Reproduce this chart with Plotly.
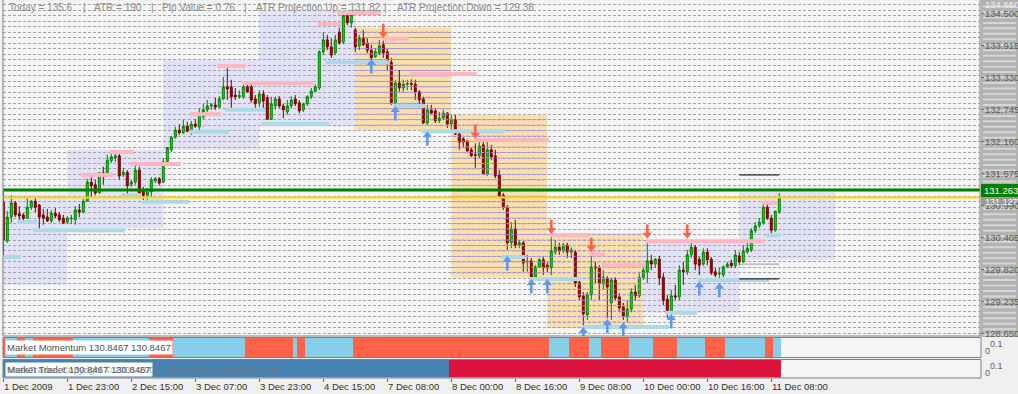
import plotly.graph_objects as go

W, H = 1018, 394

# ---------------- data (H1 candles) ----------------
opens = [131.05,130.33,130.77,131.03,130.83,130.81,130.75,130.95,131.06,130.99,
         130.81,130.77,130.70,130.84,130.81,130.75,130.68,130.74,130.72,130.90,
         130.86,131.06,131.41,131.36,131.21,131.58,131.58,131.80,131.85,131.89,
         131.54,131.59,131.37,131.41,131.63,131.25,131.17,131.23,131.43,131.47,
         131.41,131.78,132.00,132.23,132.36,132.31,132.43,132.32,132.47,132.42,
         132.60,132.73,132.80,132.82,132.78,132.93,133.15,133.15,133.00,132.97,
         132.97,133.15,133.15,132.93,132.86,133.02,132.95,132.56,132.80,132.93,
         132.80,132.69,132.80,132.93,132.86,132.73,132.84,132.97,133.07,133.13,
         133.79,134.01,133.88,133.77,134.15,133.97,134.45,134.32,134.19,133.90,
         134.04,133.95,133.82,133.70,133.77,133.92,133.79,133.60,132.86,133.22,
         133.13,133.20,133.21,133.20,133.06,132.93,132.49,132.73,132.71,132.53,
         132.58,132.67,132.47,132.55,132.29,132.20,132.16,132.00,131.91,131.89,
         132.09,131.56,132.00,131.89,131.54,131.17,130.95,130.30,130.55,130.26,
         130.30,129.95,129.97,129.67,129.86,129.99,129.89,129.84,130.13,130.22,
         130.15,130.26,130.13,130.13,129.58,129.33,128.98,129.35,129.86,129.84,
         129.55,129.64,129.20,129.62,129.31,129.13,128.95,129.09,129.40,129.33,
         129.67,129.77,129.97,129.91,130.00,129.67,129.27,129.02,129.33,129.31,
         129.80,129.77,130.08,130.22,130.00,129.91,130.13,130.00,129.77,129.73,
         129.71,129.86,129.93,129.88,130.06,129.95,130.13,130.17,130.52,130.61,
         130.66,130.95,130.75,130.53,130.86]
highs = [131.26,130.88,131.17,131.06,130.97,130.84,131.12,131.08,131.12,131.01,
         130.92,130.92,130.90,130.94,130.86,130.81,130.79,130.81,130.97,131.01,
         131.10,131.47,131.50,131.45,131.59,131.69,131.91,131.94,132.00,131.96,
         131.67,131.63,131.45,131.78,131.69,131.32,131.30,131.50,131.50,131.50,
         131.85,132.05,132.25,132.42,132.47,132.55,132.51,132.53,132.56,132.76,
         132.84,132.91,132.86,132.95,132.98,133.33,133.55,133.28,133.13,133.09,
         133.20,133.22,133.20,133.00,133.09,133.09,133.00,132.97,132.97,132.98,
         132.84,132.91,132.98,133.00,132.91,132.86,133.00,133.13,133.20,133.82,
         134.15,134.10,134.04,134.10,134.23,134.52,134.50,134.52,134.23,134.10,
         134.19,134.04,133.92,133.86,134.01,134.01,133.86,133.68,133.28,133.46,
         133.28,133.28,133.29,133.28,133.09,132.97,132.82,132.82,132.76,132.69,
         132.73,132.69,132.64,132.64,132.32,132.23,132.18,132.04,132.12,132.18,
         132.14,132.18,132.09,132.00,131.63,131.21,130.99,130.68,130.72,130.35,
         130.33,130.08,130.02,129.89,130.02,130.06,129.95,130.40,130.35,130.30,
         130.30,130.30,130.22,130.17,129.62,129.40,129.40,130.08,129.95,129.89,
         129.80,129.69,129.66,129.67,129.38,129.20,129.25,129.47,129.53,129.77,
         129.89,130.31,130.08,130.02,130.06,129.75,129.35,129.44,129.53,129.89,
         129.95,130.17,130.31,130.26,130.04,130.20,130.20,130.04,129.84,129.84,
         129.89,129.95,129.99,130.17,130.13,130.26,130.31,130.57,130.68,130.75,
         131.01,131.05,130.81,130.88,131.21]
lows = [130.02,130.30,130.66,130.77,130.72,130.66,130.75,130.90,130.86,130.53,
        130.63,130.68,130.66,130.75,130.68,130.64,130.64,130.64,130.63,130.77,
        130.84,131.05,131.14,131.17,131.21,131.36,131.58,131.76,131.78,131.45,
        131.50,131.17,131.32,131.36,131.14,131.03,131.08,131.12,131.39,131.36,
        131.39,131.76,131.96,132.20,132.27,132.29,132.32,132.27,132.40,132.36,
        132.56,132.69,132.73,132.73,132.76,132.91,132.91,132.73,132.91,132.93,
        132.93,133.04,132.86,132.73,132.78,132.71,132.55,132.55,132.73,132.76,
        132.58,132.64,132.76,132.80,132.67,132.69,132.80,132.93,133.06,133.09,
        133.73,133.82,133.68,133.73,133.92,133.93,134.28,134.23,133.79,133.82,
        133.90,133.77,133.64,133.68,133.73,133.68,133.46,132.82,132.76,133.06,
        133.06,133.09,133.09,132.91,132.84,132.47,132.45,132.64,132.49,132.49,
        132.55,132.40,132.36,132.27,132.00,132.04,131.96,131.87,131.67,131.85,
        131.54,131.52,131.81,131.48,131.12,130.90,130.17,130.20,130.20,130.20,
        129.77,129.77,129.62,129.66,129.84,129.71,129.77,129.71,130.08,130.08,
        130.11,130.02,130.02,129.49,129.25,128.76,128.89,129.25,129.56,129.25,
        129.44,128.92,128.89,129.25,129.03,128.89,128.85,129.03,129.25,129.29,
        129.62,129.56,129.80,129.84,129.53,129.16,128.92,128.98,129.25,129.25,
        129.53,129.71,130.02,129.80,129.71,129.88,129.89,129.71,129.67,129.62,
        129.67,129.84,129.84,129.84,129.89,129.93,130.10,130.13,130.48,130.57,
        130.63,130.72,130.44,130.50,130.83]
closes = [130.35,130.77,131.03,130.81,130.79,130.75,130.95,131.06,130.95,130.77,
          130.75,130.70,130.84,130.79,130.72,130.66,130.75,130.75,130.90,130.86,
          131.06,131.41,131.34,131.21,131.58,131.56,131.81,131.87,131.89,131.52,
          131.59,131.34,131.41,131.63,131.21,131.17,131.23,131.45,131.47,131.39,
          131.78,132.04,132.23,132.36,132.31,132.43,132.34,132.47,132.43,132.64,
          132.73,132.80,132.82,132.78,132.93,133.15,133.11,132.97,132.97,132.99,
          133.15,133.06,132.91,132.84,133.02,132.89,132.56,132.84,132.93,132.80,
          132.73,132.80,132.91,132.84,132.71,132.84,132.97,133.07,133.15,133.79,
          134.01,133.88,133.73,134.01,133.95,134.46,134.32,134.48,133.88,134.04,
          133.92,133.82,133.68,133.79,133.90,133.77,133.60,132.86,133.22,133.13,
          133.20,133.21,133.20,133.06,132.91,132.49,132.73,132.67,132.53,132.58,
          132.67,132.47,132.56,132.29,132.14,132.14,131.98,131.89,131.90,132.07,
          131.56,132.00,131.87,131.52,131.15,130.95,130.30,130.55,130.26,130.30,
          129.93,129.96,129.67,129.86,129.99,129.84,129.84,130.15,130.22,130.15,
          130.26,130.13,130.17,129.56,129.31,129.00,129.35,129.86,129.84,129.56,
          129.67,129.49,129.62,129.29,129.11,128.95,129.09,129.40,129.33,129.67,
          129.80,129.97,129.91,130.00,129.66,129.25,129.02,129.33,129.31,129.80,
          129.77,130.08,130.22,129.91,129.89,130.13,129.99,129.75,129.71,129.74,
          129.86,129.91,129.88,130.08,129.95,130.15,130.20,130.52,130.61,130.68,
          130.95,130.75,130.53,130.88,131.12]

tick_bars = [0, 16, 32, 48, 64, 80, 96, 112, 128, 144, 160, 176, 192]
tick_labels = ["1 Dec 2009", "1 Dec 23:00", "2 Dec 15:00", "3 Dec 07:00", "3 Dec 23:00",
               "4 Dec 15:00", "7 Dec 08:00", "8 Dec 00:00", "8 Dec 16:00", "9 Dec 08:00",
               "10 Dec 00:00", "10 Dec 16:00", "11 Dec 08:00"]
price_ticks = [134.500, 133.915, 133.330, 132.745, 132.160, 131.575, 130.990,
               130.405, 129.820, 129.235, 128.650]

# daily range boxes: start bar, end bar, top, bottom, kind (1 = up day, -1 = down day)
box_start = [-1, 16, 40, 64, 88, 112, 136, 160, 184]
box_end = [16, 40, 64, 88, 112, 136, 160, 184, 208]
box_top = [131.18, 132.00, 133.64, 134.55, 134.23, 132.64, 130.48, 130.35, 131.23]
box_bottom = [129.53, 130.57, 132.00, 132.42, 132.36, 129.66, 128.74, 129.02, 129.99]
box_kind = [1, 1, 1, 1, -1, -1, -1, 1, 1]

# resistance (pink) and support (light blue) segments
res_start = [20, 27, 32, 47, 54, 60, 79, 84, 95, 102, 118, 137, 147, 150, 161, 190]
res_end = [27, 32, 44, 54, 60, 77, 84, 94, 101, 118, 136, 146, 150, 160, 190, 193]
res_price = [131.54, 131.96, 131.74, 132.65, 133.53, 133.22, 134.30, 134.50, 134.03,
             133.39, 132.18, 130.44, 130.09, 129.89, 130.33, 131.03]
sup_start = [0, 4, 8, 30, 35, 47, 56, 65, 81, 98, 105, 125, 132, 145, 166, 174, 191]
sup_end = [4, 8, 30, 34, 46, 56, 65, 81, 96, 105, 125, 130, 144, 166, 173, 191, 194]
sup_price = [130.04, 130.68, 130.53, 131.17, 131.05, 132.33, 132.73, 132.47, 133.60,
             132.80, 132.34, 130.04, 129.64, 128.76, 129.02, 129.62, 130.44]

# signal arrows (tip positions)
down_bars = [95, 118, 137, 147, 161, 171]
down_tips = [134.06, 132.22, 130.48, 130.15, 130.39, 130.39]
up_bars = [92, 98, 106, 126, 132, 136, 145, 151, 155, 167, 174, 179]
up_tips = [133.64, 132.78, 132.32, 130.04, 129.62, 129.62, 128.74, 128.89, 128.83,
           128.98, 129.58, 129.55]

# horizontal levels
green_level = 131.263
yellow_level = 131.127
proj_prices = [131.54, 129.91, 129.64]
proj_colors = ["#000000", "#9a9a9a", "#000000"]
proj_start, proj_end = 184, 194

# indicator panels: (state, bar count) runs, 1 = up, -1 = down
momentum_runs = [(-1, 1), (1, 3), (-1, 2), (1, 2), (-1, 10), (1, 19), (-1, 6), (1, 18),
                 (-1, 12), (1, 1), (-1, 2), (1, 12), (-1, 49), (1, 5), (-1, 5), (1, 3),
                 (-1, 7), (1, 6), (-1, 6), (1, 7), (-1, 5), (1, 10), (-1, 2), (1, 2)]
trend_runs = [(1, 112), (-1, 83)]

info_texts = ["Today = 135.6", "|", "ATR = 190", "|", "Pip Value = 0.76", "|",
              "ATR Projection Up = 131.82", "|", "ATR Projection Down = 129.38"]
info_x = [7, 81, 92, 149, 160, 242, 254, 382, 395]

# ---------------- layout helpers ----------------
def px(x):
    return x / W


def py(y):
    return 1 - y / H


n = len(closes)
bars = list(range(n))
X_RANGE = [-0.075, 244.175]
Y_RANGE = [128.596, 134.720]
XDOM = [px(3), px(980)]
YDOM_PX = (1, 336)
PRICE_PER_PX = (Y_RANGE[1] - Y_RANGE[0]) / (YDOM_PX[1] - YDOM_PX[0])
FONT = "Tahoma, 'Liberation Sans', Arial, sans-serif"

fig = go.Figure()

# grid segments recoloured inside the down-day boxes
grid_levels = [round(128.65 + 0.1 * k, 2) for k in range(61)]
gx, gy = [], []
for s, e, t, b, k in zip(box_start, box_end, box_top, box_bottom, box_kind):
    if k == -1:
        for lv in grid_levels:
            if b <= lv <= t:
                gx += [s, e, None]
                gy += [lv, lv, None]
fig.add_trace(go.Scatter(x=gx, y=gy, mode="lines", hoverinfo="skip",
                         line=dict(color="#b08cf2", width=1, dash="3px,2px"),
                         xaxis="x", yaxis="y", showlegend=False))


def segs(starts, ends, prices):
    xs, ys = [], []
    for s, e, p in zip(starts, ends, prices):
        xs += [s - 0.4, e + 0.4, None]
        ys += [p, p, None]
    return xs, ys


rx, ry = segs(res_start, res_end, res_price)
sx, sy = segs(sup_start, sup_end, sup_price)
fig.add_trace(go.Scatter(x=rx, y=ry, mode="lines", line=dict(color="#ffb6c1", width=4),
                         hoverinfo="skip", showlegend=False, xaxis="x", yaxis="y"))
fig.add_trace(go.Scatter(x=sx, y=sy, mode="lines", line=dict(color="#add8e6", width=4),
                         hoverinfo="skip", showlegend=False, xaxis="x", yaxis="y"))

fig.add_trace(go.Candlestick(
    x=bars, open=opens, high=highs, low=lows, close=closes,
    increasing=dict(line=dict(color="#008000", width=1), fillcolor="#00ee00"),
    decreasing=dict(line=dict(color="#7a0000", width=1), fillcolor="#b00000"),
    whiskerwidth=0, showlegend=False, xaxis="x", yaxis="y"))

# arrows: a triangular head plus a short shaft, offset from each tip by a few pixels
def arrow_traces(bx, tips, direction, color):
    head_y = [t - direction * 3.0 * PRICE_PER_PX for t in tips]
    shaft_y = [t - direction * 8.5 * PRICE_PER_PX for t in tips]
    sym = "triangle-up" if direction == 1 else "triangle-down"
    fig.add_trace(go.Scatter(x=bx, y=shaft_y, mode="markers", hoverinfo="skip", showlegend=False,
                             marker=dict(symbol="line-ns", size=7, line=dict(color=color, width=2.6)),
                             xaxis="x", yaxis="y"))
    fig.add_trace(go.Scatter(x=bx, y=head_y, mode="markers", hoverinfo="skip", showlegend=False,
                             marker=dict(symbol=sym, size=8, color=color, line=dict(width=0)),
                             xaxis="x", yaxis="y"))


arrow_traces(up_bars, up_tips, 1, "#6495ed")
arrow_traces(down_bars, down_tips, -1, "#ff6347")


def expand(runs, up_col, dn_col):
    cols = []
    for state, cnt in runs:
        cols += [up_col if state == 1 else dn_col] * cnt
    return cols


mom_cols = expand(momentum_runs, "#87ceeb", "#ff6347")
trd_cols = expand(trend_runs, "#4682b4", "#dc143c")
fig.add_trace(go.Bar(x=bars, y=[1] * n, width=1, marker=dict(color=mom_cols, line=dict(width=0)),
                     hoverinfo="skip", showlegend=False, xaxis="x2", yaxis="y2"))
fig.add_trace(go.Bar(x=bars, y=[1] * n, width=1, marker=dict(color=trd_cols, line=dict(width=0)),
                     hoverinfo="skip", showlegend=False, xaxis="x3", yaxis="y3"))

shapes = []
# right price-scale background
shapes.append(dict(type="rect", xref="paper", yref="paper", x0=px(981), x1=1, y0=py(337), y1=1,
                   fillcolor="#b2b2b2", line=dict(width=0), layer="below"))
for lv in grid_levels:
    shapes.append(dict(type="line", xref="paper", yref="y", x0=px(983), x1=px(1016),
                       y0=lv - 0.03, y1=lv - 0.03, line=dict(color="#d6d6d6", width=2),
                       layer="below"))
# daily boxes
for s, e, t, b, k in zip(box_start, box_end, box_top, box_bottom, box_kind):
    shapes.append(dict(type="rect", xref="x", yref="y", x0=max(s, -0.075), x1=e, y0=b, y1=t,
                       fillcolor="#e2e2f6" if k == 1 else "#f7dfae",
                       line=dict(width=0), layer="below"))
# levels
shapes.append(dict(type="line", xref="paper", yref="y", x0=XDOM[0], x1=XDOM[1],
                   y0=green_level, y1=green_level, line=dict(color="#008000", width=3)))
shapes.append(dict(type="line", xref="paper", yref="y", x0=XDOM[0], x1=XDOM[1],
                   y0=yellow_level, y1=yellow_level, line=dict(color="#ffd700", width=2)))
for p, c in zip(proj_prices, proj_colors):
    shapes.append(dict(type="line", xref="x", yref="y", x0=proj_start, x1=proj_end,
                       y0=p, y1=p, line=dict(color=c, width=1)))
# borders
shapes.append(dict(type="line", xref="paper", yref="paper", x0=px(3), x1=px(3), y0=py(336), y1=1,
                   line=dict(color="#808080", width=1)))
shapes.append(dict(type="line", xref="paper", yref="paper", x0=px(980), x1=px(980), y0=py(336), y1=1,
                   line=dict(color="#808080", width=1)))
shapes.append(dict(type="line", xref="paper", yref="paper", x0=px(3), x1=px(980), y0=py(336), y1=py(336),
                   line=dict(color="#808080", width=1)))
for top, bot in [(337.5, 357.5), (359.5, 378)]:
    shapes.append(dict(type="rect", xref="paper", yref="paper", x0=px(3), x1=px(981),
                       y0=py(bot), y1=py(top), line=dict(color="#808080", width=1)))
# green / gray labels on price scale
shapes.append(dict(type="rect", xref="paper", yref="paper", x0=px(981), x1=1, y0=py(205), y1=py(197),
                   fillcolor="#9a9a9a", line=dict(width=0)))
shapes.append(dict(type="rect", xref="paper", yref="paper", x0=px(981), x1=1, y0=py(197), y1=py(184),
                   fillcolor="#008000", line=dict(width=0)))

ann = []
for t, x in zip(info_texts, info_x):
    ann.append(dict(text=t, x=px(x), y=py(8), xref="paper", yref="paper", xanchor="left",
                    yanchor="middle", showarrow=False, font=dict(family=FONT, size=10, color="#8a8a8a")))
for b, lab in zip(tick_bars, tick_labels):
    ann.append(dict(text=lab, x=b, y=py(386), xref="x", yref="paper", xanchor="left",
                    yanchor="middle", showarrow=False, xshift=-1,
                    font=dict(family=FONT, size=9.5, color="#303030")))
for p in price_ticks:
    ann.append(dict(text=f"{p:.3f}", x=px(983), y=p, xref="paper", yref="y", xanchor="left",
                    yanchor="middle", showarrow=False,
                    font=dict(family=FONT, size=9.5, color="#5a5a5a")))
ann.append(dict(text="134.650", x=px(983), y=134.65, xref="paper", yref="y", xanchor="left",
                yanchor="middle", showarrow=False, font=dict(family=FONT, size=9.5, color="#f0f0f0")))
ann.append(dict(text=f"{yellow_level:.3f}", x=px(983), y=py(202), xref="paper", yref="paper",
                xanchor="left", yanchor="middle", showarrow=False,
                font=dict(family=FONT, size=9, color="#ffffff")))
ann.append(dict(text=f"{green_level:.3f}", x=px(983), y=py(190.5), xref="paper", yref="paper",
                xanchor="left", yanchor="middle", showarrow=False, bgcolor="#008000", borderpad=0,
                font=dict(family=FONT, size=9.5, color="#ffffff")))
for yy in (347, 368.5):
    ann.append(dict(text="0.1", x=px(988), y=py(yy - 3), xref="paper", yref="paper", xanchor="left",
                    yanchor="middle", showarrow=False, font=dict(family=FONT, size=9, color="#606060")))
    ann.append(dict(text="0", x=px(983), y=py(yy + 4), xref="paper", yref="paper", xanchor="left",
                    yanchor="middle", showarrow=False, font=dict(family=FONT, size=9, color="#606060")))
ann.append(dict(text="Market Momentum 130.8467 130.8467", x=px(5), y=py(347.5), xref="paper",
                yref="paper", xanchor="left", yanchor="middle", showarrow=False, bgcolor="#ffffff",
                borderpad=1, font=dict(family=FONT, size=9.5, color="#505050")))
ann.append(dict(text="Market Trader 130.8467 130.8467", x=px(5), y=py(369), xref="paper",
                yref="paper", xanchor="left", yanchor="middle", showarrow=False, bgcolor="#ffffff",
                borderpad=1, font=dict(family=FONT, size=9.5, color="#505050")))
ann.append(dict(text="MetaTrader, Copyright © 2001-2009 MetaQuotes Software Corp.", x=px(6), y=py(369),
                xref="paper", yref="paper", xanchor="left", yanchor="middle", showarrow=False,
                font=dict(family=FONT, size=9.5, color="rgba(120,120,120,0.75)")))

fig.update_layout(
    width=W, height=H, autosize=False, margin=dict(l=0, r=0, t=0, b=0),
    paper_bgcolor="#f0f0f0", plot_bgcolor="#f5f5f5", showlegend=False, bargap=0,
    shapes=shapes, annotations=ann, hovermode=False,
    xaxis=dict(domain=XDOM, range=X_RANGE, anchor="y", showgrid=False, zeroline=False,
               showticklabels=False, ticks="", rangeslider=dict(visible=False), fixedrange=True),
    yaxis=dict(domain=[py(YDOM_PX[1]), py(YDOM_PX[0])], range=Y_RANGE, anchor="x", side="right",
               tickvals=price_ticks, ticks="outside", ticklen=3, tickcolor="#707070",
               showticklabels=False, showgrid=False, zeroline=False, fixedrange=True,
               minor=dict(tick0=128.65, dtick=0.1, showgrid=True, gridcolor="#a4a4a4",
                          griddash="3px,2px", gridwidth=1, ticks="")),
    xaxis2=dict(domain=XDOM, range=X_RANGE, anchor="y2", showgrid=False, zeroline=False,
                showticklabels=False, ticks="", fixedrange=True),
    yaxis2=dict(domain=[py(357), py(338)], range=[0, 1], anchor="x2", showgrid=False,
                zeroline=False, showticklabels=False, ticks="", fixedrange=True),
    xaxis3=dict(domain=XDOM, range=X_RANGE, anchor="y3", showgrid=False, zeroline=False,
                showticklabels=False, tickvals=tick_bars, ticks="outside", ticklen=3,
                tickcolor="#606060", fixedrange=True),
    yaxis3=dict(domain=[py(377.5), py(360)], range=[0, 1], anchor="x3", showgrid=False,
                zeroline=False, showticklabels=False, ticks="", fixedrange=True),
)
fig.update_xaxes(rangeslider_visible=False)

fig.write_html("out.html", config={"displayModeBar": False})
